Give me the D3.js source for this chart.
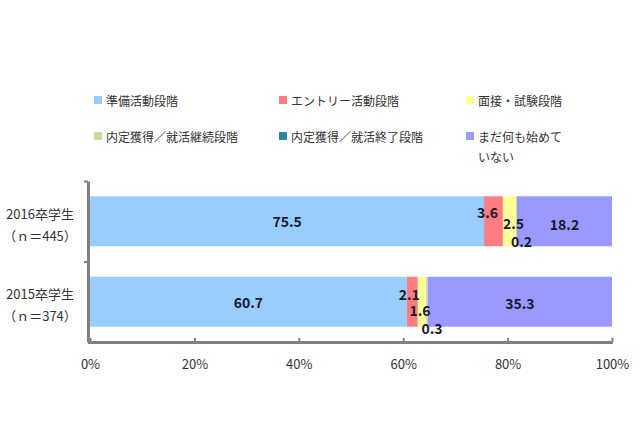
<!DOCTYPE html>
<html><head><meta charset="utf-8">
<script src="https://cdn.jsdelivr.net/npm/d3@7"></script>
<style>
html,body{margin:0;padding:0;background:#fff;}
svg{display:block;font-family:"Noto Sans CJK JP","Noto Sans",sans-serif;}
</style></head>
<body>
<svg id="chart" width="640" height="426"></svg>
<script>
// ---- data ----
const categories = ["2016卒学生", "2015卒学生"];
const categorySub = ["（ｎ＝445）", "（ｎ＝374）"];
const seriesNames = ["準備活動段階", "エントリー活動段階", "面接・試験段階", "内定獲得／就活継続段階", "内定獲得／就活終了段階", "まだ何も始めていない"];
const s2016 = [75.5, 3.6, 2.5, 0.2, 0, 18.2];
const s2015 = [60.7, 2.1, 1.6, 0.3, 0, 35.3];
const xTicks = [0, 20, 40, 60, 80, 100];

// ---- styling / layout ----
const colors = ["#99CCFF", "#FF7C80", "#FFFF99", "#C8DCA0", "#31859C", "#9999FF"];
// label nudges [dx, dy] for crowded small segments (per bar, per series)
const nudges = [
  [[0,0],[-6,-9],[4,2],[5,20],[0,0],[0,3]],
  [[0,0],[-3,-8],[-2,8],[5,26],[0,0],[0,1]]
];

const svg = d3.select("#chart");
const x = d3.scaleLinear().domain([0, 100]).range([90, 612]);
const y = d3.scaleBand().domain(categories).range([181, 342]).paddingInner(0.379).paddingOuter(0.19);

const values = [s2016, s2015];
const stackData = categories.map((c, i) => {
  const o = {cat: c};
  seriesNames.forEach((s, j) => o[s] = values[i][j]);
  return o;
});
const stacked = d3.stack().keys(seriesNames)(stackData);

// bars
stacked.forEach((layer, j) => {
  svg.append("g").selectAll("rect").data(layer).join("rect")
    .attr("x", d => x(d[0]))
    .attr("y", d => y(d.data.cat))
    .attr("width", d => x(d[1]) - x(d[0]))
    .attr("height", y.bandwidth())
    .attr("fill", colors[j]);
});

// value labels
stacked.forEach((layer, j) => {
  layer.forEach((d, i) => {
    const v = values[i][j];
    if (v === 0) return;
    const [dx, dy] = nudges[i][j];
    svg.append("text")
      .attr("x", x((d[0] + d[1]) / 2) + dx)
      .attr("y", y(d.data.cat) + y.bandwidth() / 2 + dy)
      .attr("text-anchor", "middle")
      .attr("dominant-baseline", "central")
      .attr("font-size", 14)
      .attr("font-weight", "bold")
      .attr("fill", "#1a1a2e")
      .text(v.toFixed(1));
  });
});

// x axis
const xAxis = d3.axisBottom(x).tickValues(xTicks).tickSize(-4).tickSizeOuter(0)
  .tickPadding(18).tickFormat(d => d + "%");
const gx = svg.append("g").attr("transform", "translate(0,342)").call(xAxis);
gx.select(".domain").attr("stroke", "#808080").attr("stroke-width", 3)
  .attr("d", "M88,0.5H613");
gx.selectAll(".tick line").attr("stroke", "#808080").attr("stroke-width", 2);
gx.selectAll(".tick text").attr("font-size", 13).attr("fill", "#333")
  .attr("font-family", "'Noto Sans CJK JP',sans-serif");

// y axis
const yLin = d3.scaleLinear().domain([0, 2]).range([181, 342]);
const yAxis = d3.axisLeft(yLin).tickValues([0, 1]).tickSize(4).tickSizeOuter(0).tickFormat("");
const gy = svg.append("g").attr("transform", "translate(88,0)").call(yAxis);
gy.select(".domain").attr("stroke", "#808080").attr("stroke-width", 3);
gy.selectAll(".tick line").attr("stroke", "#808080").attr("stroke-width", 2);

// category labels
categories.forEach((c, i) => {
  const cy = y(c) + y.bandwidth() / 2;
  svg.append("text").attr("x", 40).attr("y", cy - 8)
    .attr("text-anchor", "middle").attr("dominant-baseline", "central")
    .attr("font-size", 13).attr("fill", "#333").text(c);
  svg.append("text").attr("x", 40).attr("y", cy + 14)
    .attr("text-anchor", "middle").attr("dominant-baseline", "central")
    .attr("font-size", 13).attr("fill", "#333").text(categorySub[i]);
});

// legend
const legPos = [[94,100],[279,100],[466,100],[94,136],[279,136],[466,136]];
seriesNames.forEach((s, j) => {
  const [lx, ly] = legPos[j];
  svg.append("rect").attr("x", lx).attr("y", ly - 4).attr("width", 8).attr("height", 8).attr("fill", colors[j]);
  const t = svg.append("text").attr("x", lx + 12).attr("y", ly)
    .attr("dominant-baseline", "central").attr("font-size", 12).attr("fill", "#333");
  if (s === "まだ何も始めていない") {
    t.text("まだ何も始めて");
    svg.append("text").attr("x", lx + 12).attr("y", ly + 20)
      .attr("dominant-baseline", "central").attr("font-size", 12).attr("fill", "#333").text("いない");
  } else {
    t.text(s);
  }
});
</script>
</body></html>
